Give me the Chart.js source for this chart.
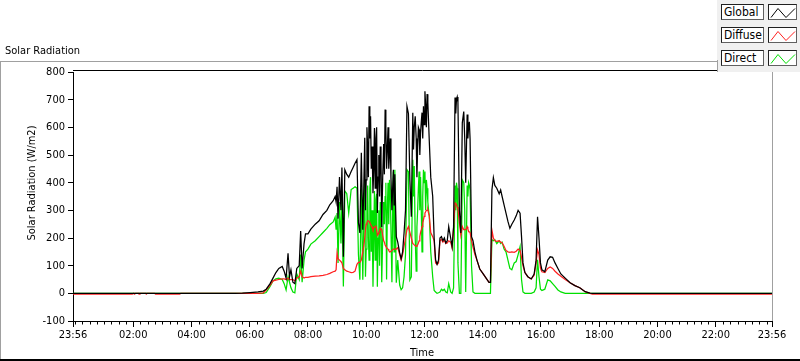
<!DOCTYPE html>
<html><head><meta charset="utf-8">
<script src="https://cdn.jsdelivr.net/npm/chart.js@4/dist/chart.umd.min.js"></script>
<style>
html,body{margin:0;padding:0;background:#fff;}
#wrap{position:relative;width:800px;height:361px;overflow:hidden;font-family:'DejaVu Sans Condensed','Liberation Sans',sans-serif;color:#000;}
#c{position:absolute;left:0;top:0;}
.ln{position:absolute;}
.txt{position:absolute;white-space:nowrap;font-size:11px;line-height:13px;}
#panel{position:absolute;left:717px;top:0;width:83px;height:72px;background:#f0f0f0;}
.lbl{position:absolute;left:4px;width:43px;height:16px;box-sizing:border-box;background:#fff;border:1px solid #202020;border-right-color:#606060;border-bottom-color:#606060;font-size:12px;line-height:14px;padding-left:2px;}
.smp{position:absolute;left:51px;width:29px;height:16px;box-sizing:border-box;background:#fff;border:1px solid #202020;border-right-color:#606060;border-bottom-color:#606060;}
.smp svg{position:absolute;left:-1px;top:-1px;}
</style></head>
<body>
<div id="wrap">
<canvas id="c" width="800" height="361"></canvas>
<div class="ln" style="left:0;top:61px;width:717px;height:1px;background:#a0a0a0"></div>
<div class="ln" style="left:0;top:61px;width:1px;height:300px;background:#a0a0a0"></div>
<div class="ln" style="left:0;top:359px;width:800px;height:2px;background:#000"></div>
<div class="txt" style="left:5px;top:44px">Solar Radiation</div>
<div class="txt" style="left:31px;top:183px;transform:translate(-50%,-50%) rotate(-90deg)">Solar Radiation (W/m2)</div>
<div class="txt" style="left:422px;top:352px;transform:translate(-50%,-50%)">Time</div>
<div id="panel">
  <div class="ln" style="left:0;top:60px;width:1px;height:12px;background:#a0a0a0"></div>
  <div class="lbl" style="top:4px">Global</div>
  <div class="smp" style="top:4px"><svg width="29" height="16"><polyline points="3,13.5 10,4.5 18,13.5 27,4.5" fill="none" stroke="#000" stroke-width="1"/></svg></div>
  <div class="lbl" style="top:27px">Diffuse</div>
  <div class="smp" style="top:27px"><svg width="29" height="16"><polyline points="3,13.5 10,4.5 18,13.5 27,4.5" fill="none" stroke="#ff2020" stroke-width="1"/></svg></div>
  <div class="lbl" style="top:50px">Direct</div>
  <div class="smp" style="top:50px"><svg width="29" height="16"><polyline points="3,13.5 10,4.5 18,13.5 27,4.5" fill="none" stroke="#00e000" stroke-width="1"/></svg></div>
</div>
</div>
<script>
// time in minutes after midnight (-4 = 23:56 of previous day)
const timeMin = [
-4,118,121,123,125,131,132,134,146,147,149,164,166,216,218,330,345,361,377,388,
394,402,408,414,420,427,431,435,439,442,445,449,453,457,462,465,468,472,475,480,
486,495,503,511,519,525,532,536,538,540,542,545,548,550,553,556,560,564,569,573,
577,581,584,587,590,593,595,597,598.5,600,601.5,603,604.5,606,607.5,609,610.5,612,614,615.5,
617,618.5,620,621.5,623,624.5,626,627.5,629,630.5,632,634,636,637.5,639,640.5,642,643.5,645,646.5,
648,649.5,651,653,654.5,656,657.5,659,662,665,669,672,675,678,681,684,687,690,693,696,
697.5,699,701,703,704.5,706,707.5,709,710.5,712,713.5,715,716.5,718,719.5,721,722.5,724,725.5,727,
728.5,730,733,737,740,743,746,749,752,755,758,761,764,767,770,774,777,780,783,784.5,
786,787.5,789,792,795,798,801,803,805,808,809.5,811,812.5,814,817,820,824,828,834,841,
847,853,856,859,862,865,869,874,877,880,884,888,892,896,900,905,909,913,917,920,
923,927,933,940,946,950,953,956,959,962,968,974,979,984,989,995,1001,1010,1020,1030,
1040,1051,1061,1066,1436];

const globalRad = [
0,0,0,0,0,0,0,0,0,0,0,0,0,0,0,0,1,3,5,8,
15,35,55,75,90,97,80,55,145,60,85,40,35,90,100,225,90,180,215,215,
232,250,262,285,300,320,335,350,330,385,270,420,300,455,132,447,430,420,440,455,
470,483,255,218,508,230,380,562,300,410,600,530,420,676,560,640,450,531,362,450,
598,380,560,600,290,420,500,350,531,480,240,420,540,430,664,600,450,520,600,450,
500,560,420,300,380,447,320,430,205,185,146,125,150,218,300,676,650,410,277,653,
520,600,640,560,420,530,600,592,500,580,620,653,560,676,610,730,680,600,720,690,
620,550,420,351,200,121,105,120,200,205,190,200,182,190,241,200,168,240,708,650,
700,710,690,300,218,616,657,560,400,646,560,603,620,560,205,190,150,121,88,70,
55,40,40,374,418,390,380,360,374,350,320,290,260,235,250,265,280,300,290,205,
110,75,60,52,70,120,277,200,110,85,78,120,132,130,110,90,70,55,38,28,
20,6,1,0,0];

const diffuseRad = [
-3,-3,0,-3,0,0,-3,0,0,-3,0,0,-3,-3,0,0,0,0,0,2,
12,30,45,48,50,52,52,50,55,50,50,50,45,55,60,80,60,55,58,58,
60,62,63,65,68,72,78,80,85,146,125,120,115,110,90,85,80,78,75,76,
80,105,112,112,120,150,170,200,230,250,255,262,262,260,255,250,245,240,230,235,
240,240,245,230,210,215,220,225,235,232,230,210,190,185,175,170,165,162,160,155,
150,150,150,155,158,160,160,160,160,165,140,120,140,170,200,230,241,220,200,180,
178,175,172,170,172,175,182,190,205,220,230,241,255,266,278,290,295,300,300,302,
290,280,220,205,190,110,105,110,190,195,185,192,180,182,190,185,165,235,327,325,
320,312,305,255,210,241,230,230,230,241,232,225,222,220,190,168,140,121,88,70,
55,40,40,229,200,190,188,190,185,183,170,155,150,148,150,148,152,160,155,130,
100,75,60,52,65,110,157,140,90,78,75,90,95,90,80,70,62,50,38,28,
20,6,0,-3,-3];

const directRad = [
0,0,0,0,0,0,0,0,0,0,0,0,0,0,0,0,0,0,0,0,
3,25,45,52,55,50,35,12,60,40,20,5,2,70,50,140,40,120,150,160,
178,190,205,220,235,248,258,275,230,290,110,330,180,340,25,370,360,290,375,380,
385,380,140,49,380,49,250,410,60,160,300,390,200,120,380,420,150,300,24,200,
370,120,340,360,24,200,300,100,330,280,40,200,330,250,350,400,50,300,400,250,
410,380,380,40,300,440,150,447,38,120,30,13,20,60,140,447,440,49,60,483,
350,460,200,80,240,300,380,440,300,420,300,150,350,447,400,440,300,410,380,330,
300,280,150,60,10,5,0,2,5,15,10,15,5,2,35,5,0,20,390,300,
400,380,110,0,0,410,400,300,5,390,350,400,390,374,100,5,0,0,0,0,
0,0,0,194,190,194,180,190,180,185,160,150,120,90,85,110,115,140,169,50,
5,0,0,0,5,20,121,60,15,10,15,49,45,35,25,12,5,0,0,0,
0,0,0,0,0];

const yTickValues = [-100,0,100,200,300,400,500,600,700,800];
const xTickValues = [-4,120,240,360,480,600,720,840,960,1080,1200,1320,1436];
const minorStep = 15;

function fmtTime(m){ if(m<0) m+=1440; const h=Math.floor(m/60), mm=Math.round(m%60); return String(h).padStart(2,'0')+':'+String(mm).padStart(2,'0'); }
const pts = arr => timeMin.map((t,i)=>({x:t,y:arr[i]}));

Chart.defaults.font.family = "'DejaVu Sans Condensed','Liberation Sans',sans-serif";
Chart.defaults.font.size = 11;
Chart.defaults.color = '#000';

const framePlugin = {
  id:'frame',
  afterDraw(chart){
    const {ctx, chartArea:{left,right,top,bottom}, scales:{x}} = chart;
    ctx.save();
    ctx.lineWidth = 1;
    ctx.strokeStyle = '#000';
    ctx.beginPath(); ctx.moveTo(left, top-1.5); ctx.lineTo(right, top-1.5); ctx.stroke();
    ctx.strokeStyle = '#a0a0a0';
    ctx.beginPath(); ctx.moveTo(Math.round(right)+0.5, top-1); ctx.lineTo(Math.round(right)+0.5, bottom); ctx.stroke();
    ctx.strokeStyle = '#000';
    ctx.beginPath();
    for(let m=0; m<x.max; m+=minorStep){
      if(xTickValues.includes(m)) continue;
      const px = Math.round(x.getPixelForValue(m))+0.5;
      ctx.moveTo(px, bottom); ctx.lineTo(px, bottom+3.5);
    }
    ctx.stroke();
    ctx.restore();
  }
};

new Chart(document.getElementById('c'), {
  type:'line',
  data:{datasets:[
    {label:'Global', data:pts(globalRad), borderColor:'#000000', borderWidth:1.25, pointRadius:0, tension:0},
    {label:'Diffuse', data:pts(diffuseRad), borderColor:'#ff2020', borderWidth:1.25, pointRadius:0, tension:0},
    {label:'Direct', data:pts(directRad), borderColor:'#00e000', borderWidth:1.25, pointRadius:0, tension:0}
  ]},
  options:{
    responsive:false, animation:false, events:[],
    layout:{padding:{left:0,right:28,top:72,bottom:0}},
    plugins:{legend:{display:false}, tooltip:{enabled:false}, title:{display:false}},
    scales:{
      x:{type:'linear', min:-4, max:1436,
        afterBuildTicks:s=>{ s.ticks = xTickValues.map(v=>({value:v})); },
        afterFit:s=>{ s.height = 40; },
        ticks:{autoSkip:false, maxRotation:0, padding:2, callback:v=>fmtTime(v)},
        grid:{drawOnChartArea:false, tickLength:6, color:'#000'},
        border:{color:'#000'}
      },
      y:{type:'linear', min:-100, max:800,
        afterBuildTicks:s=>{ s.ticks = yTickValues.map(v=>({value:v})); },
        afterFit:s=>{ s.width = 73; },
        ticks:{padding:3},
        grid:{drawOnChartArea:false, tickLength:5, color:'#000'},
        border:{color:'#000'}
      }
    }
  },
  plugins:[framePlugin]
});
</script>
</body></html>
